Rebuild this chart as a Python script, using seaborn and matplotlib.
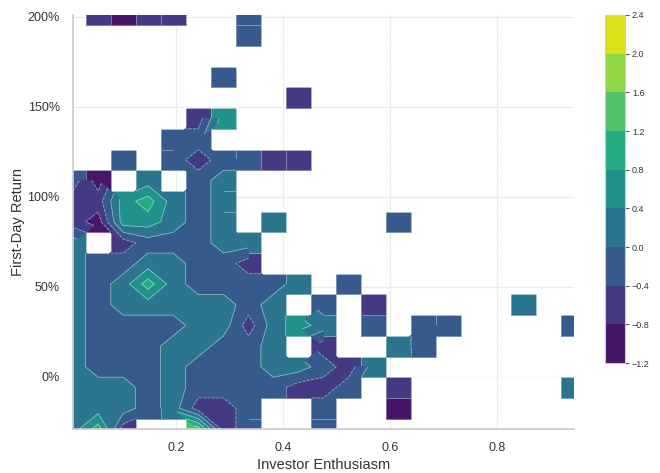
import numpy as np
import matplotlib
matplotlib.use("Agg")
import matplotlib.pyplot as plt
from matplotlib.colors import ListedColormap, BoundaryNorm
from matplotlib.ticker import FuncFormatter
import seaborn as sns

# bin centres of the grid
enthusiasm = [0.007, 0.054, 0.101, 0.147, 0.194, 0.241, 0.288, 0.335, 0.381, 0.428, 0.475,
              0.522, 0.569, 0.615, 0.662, 0.709, 0.756, 0.803, 0.849, 0.896, 0.943]
first_day_return = [-29, -17.5, -6, 5.5, 17, 28.5, 40, 51.5, 63, 74.5, 86,
                    97.5, 109, 120.5, 132, 143.5, 155, 166.5, 178, 189.5, 201]

# colour band of each cell, bottom row first, one char per enthusiasm bin ('.' = no data)
cell_bands = [
    "351..612..2..........",
    "33323112..2..0.......",
    "333232222112.1......3",
    "3222322233213........",
    "322233223.1..32......",
    "32222331343.2.22....2",
    "323333323.2.1.....3..",
    "3235322223.2.........",
    "32233221.............",
    "3.122233.............",
    "1044323.3....2.......",
    "1145323..............",
    "20.3.23..............",
    "..2.212211...........",
    "....22...............",
    ".....14..............",
    ".........1...........",
    "......2..............",
    ".....................",
    ".......2.............",
    ".1011..2.............",
]
# value estimated as the middle of each colour band
band_values = {"0": -1.0, "1": -0.6, "2": -0.2, "3": 0.2, "4": 0.6,
               "5": 1.0, "6": 1.4, "7": 1.8, "8": 2.2}
levels = [-1.2, -0.8, -0.4, 0.0, 0.4, 0.8, 1.2, 1.6, 2.0, 2.4]

z = np.array([[band_values.get(c, np.nan) for c in row] for row in cell_bands])
z = np.ma.masked_invalid(z)

sns.set_theme(style="whitegrid")
plt.rcParams["font.family"] = ["Liberation Sans", "DejaVu Sans"]

viridis = sns.color_palette("viridis", as_cmap=True)
n = len(levels) - 1
cmap = ListedColormap([viridis((i + 0.5) / n) for i in range(n)])
norm = BoundaryNorm(levels, n)

fig = plt.figure(figsize=(6.6, 4.73), dpi=100)
ax = fig.add_axes([73 / 660, 1 - 429 / 473, 501 / 660, 414 / 473])

# cells drawn as blocks so that lone bins show, smooth bands on top
ax.pcolormesh(enthusiasm, first_day_return, z, cmap=cmap, norm=norm,
              shading="nearest", edgecolors=(1, 1, 1, 0.35), linewidth=0.6,
              zorder=1)
cs = ax.contourf(enthusiasm, first_day_return, z, levels=levels, cmap=cmap,
                 norm=norm, zorder=2)
ax.contour(enthusiasm, first_day_return, z, levels=levels, colors="white",
           linewidths=0.6, alpha=0.45, zorder=3)

ax.set_xlim(0.007, 0.943)
ax.set_ylim(-29, 201)
ax.set_xticks([0.2, 0.4, 0.6, 0.8])
ax.set_yticks([0, 50, 100, 150, 200])
ax.yaxis.set_major_formatter(FuncFormatter(lambda v, p: f"{v:.0f}%"))
ax.grid(color="#ebebeb", linewidth=0.8)
ax.tick_params(labelsize=9, colors="#333333")
ax.set_xlabel("Investor Enthusiasm", fontsize=10.5, color="#333333", labelpad=3)
ax.set_ylabel("First-Day Return", fontsize=10.5, color="#333333", labelpad=2)
sns.despine(ax=ax)
for s in ["left", "bottom"]:
    ax.spines[s].set_color("#cccccc")

cax = fig.add_axes([605 / 660, 1 - 363 / 473, 20 / 660, 348 / 473])
cb = fig.colorbar(cs, cax=cax, ticks=levels)
cb.outline.set_edgecolor("#cccccc")
cb.outline.set_linewidth(0.8)
cax.tick_params(labelsize=6.5, right=True, length=3, width=0.8,
                color="#555555", labelcolor="#333333", pad=2)

fig.savefig("out.png", dpi=100)
